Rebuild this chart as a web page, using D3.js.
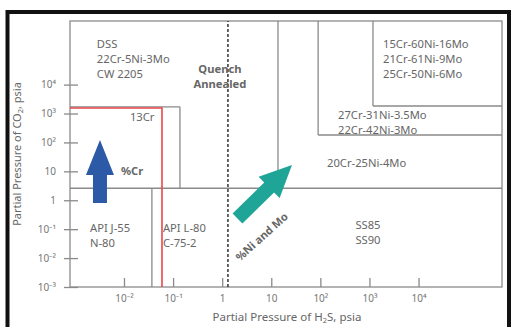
<!DOCTYPE html>
<html>
<head>
<meta charset="utf-8">
<script src="https://cdn.jsdelivr.net/npm/d3@7"></script>
<style>
  body { margin: 0; background: #fff; }
  svg text { font-family: "Noto Sans", "Open Sans", sans-serif; fill: #666; }
</style>
</head>
<body>
<svg id="chart" width="511" height="327"></svg>
<script>
// axis domains (log psia)
const xDomain = [Math.pow(10, -3.1), Math.pow(10, 5.7)];
const yDomain = [1e-3, Math.pow(10, 6.2)];
const xTicks = [1e-2, 1e-1, 1, 10, 1e2, 1e3, 1e4];
const xTickLabels = ["10\u207B\u00B2", "10\u207B\u00B9", "1", "10", "10\u00B2", "10\u00B3", "10\u2074"];
const yTicks = [1e-3, 1e-2, 1e-1, 1, 10, 1e2, 1e3, 1e4];
const yTickLabels = ["10\u207B\u00B3", "10\u207B\u00B2", "10\u207B\u00B9", "1", "10", "10\u00B2", "10\u00B3", "10\u2074"];

// region boundaries [x1, y1, x2, y2] in psia
const regionLines = [
  [xDomain[0], 2.6, xDomain[1], 2.6],
  [13.7, 2.6, 13.7, yDomain[1]],
  [90, 181, 90, yDomain[1]],
  [90, 181, xDomain[1], 181],
  [1180, 1820, 1180, yDomain[1]],
  [1180, 1820, xDomain[1], 1820],
  [xDomain[0], 1700, 0.138, 1700],
  [0.138, 1700, 0.138, 2.6],
  [0.037, yDomain[0], 0.037, 2.6]
];
const redLimit = [[xDomain[0], 1550], [0.0594, 1550], [0.0594, yDomain[0]]];
const quenchLine = 1.31;

// arrows [tail, tip]
const crArrow = [[0.00324, 0.8], [0.00324, 122]];
const niArrow = [[2.05, 0.234], [26.4, 16.6]];

// labels: first line anchor in psia
const labels = [
  { x: 0.0028, y: 1.8e5, lines: ["DSS", "22Cr-5Ni-3Mo", "CW 2205"], anchor: "start", bold: false },
  { x: 0.9, y: 24300, lines: ["Quench", "Annealed"], anchor: "middle", bold: true },
  { x: 0.0132, y: 531, lines: ["13Cr"], anchor: "start", bold: false },
  { x: 0.0087, y: 7.5, lines: ["%Cr"], anchor: "start", bold: true },
  { x: 1890, y: 1.8e5, lines: ["15Cr-60Ni-16Mo", "21Cr-61Ni-9Mo", "25Cr-50Ni-6Mo"], anchor: "start", bold: false },
  { x: 229, y: 622, lines: ["27Cr-31Ni-3.5Mo", "22Cr-42Ni-3Mo"], anchor: "start", bold: false },
  { x: 137, y: 13.6, lines: ["20Cr-25Ni-4Mo"], anchor: "start", bold: false },
  { x: 0.00203, y: 0.083, lines: ["API J-55", "N-80"], anchor: "start", bold: false },
  { x: 0.0622, y: 0.083, lines: ["API L-80", "C-75-2"], anchor: "start", bold: false },
  { x: 933, y: 0.0975, lines: ["SS85", "SS90"], anchor: "middle", bold: false }
];
const diagLabel = { x: 6.6, y: 0.052, text: "%Ni and Mo" };

const svg = d3.select("svg#chart");
const margins = { left: 70, top: 21, right: 9, bottom: 40 };
const width = +svg.attr("width");
const height = +svg.attr("height");

const x = d3.scaleLog().domain(xDomain).range([margins.left, width - margins.right]);
const y = d3.scaleLog().domain(yDomain).range([height - margins.bottom, margins.top]);

// outer black frame (cut off at the bottom)
svg.append("rect")
  .attr("x", 7.5).attr("y", 12).attr("width", 501.5).attr("height", 400)
  .attr("fill", "none").attr("stroke", "#111").attr("stroke-width", 4);

// plot frame
svg.append("rect")
  .attr("x", x(xDomain[0])).attr("y", y(yDomain[1]))
  .attr("width", x(xDomain[1]) - x(xDomain[0]))
  .attr("height", y(yDomain[0]) - y(yDomain[1]))
  .attr("fill", "none").attr("stroke", "#8a8a8a").attr("stroke-width", 1.3);

svg.append("g").selectAll("line").data(regionLines).enter().append("line")
  .attr("x1", d => x(d[0])).attr("y1", d => y(d[1]))
  .attr("x2", d => x(d[2])).attr("y2", d => y(d[3]))
  .attr("stroke", "#8a8a8a").attr("stroke-width", 1.3);

svg.append("path")
  .attr("d", d3.line().x(d => x(d[0])).y(d => y(d[1]))(redLimit))
  .attr("fill", "none").attr("stroke", "#e8474a").attr("stroke-width", 1.6);

svg.append("line")
  .attr("x1", x(quenchLine)).attr("x2", x(quenchLine))
  .attr("y1", y(yDomain[0])).attr("y2", y(yDomain[1]))
  .attr("stroke", "#333").attr("stroke-width", 1.5).attr("stroke-dasharray", "3,2");

// axes
const bottomAxis = d3.axisBottom(x).tickValues(xTicks)
  .tickFormat((d, i) => xTickLabels[i]).tickSize(-9).tickPadding(8);
const xg = svg.append("g").attr("transform", `translate(0,${y(yDomain[0])})`).call(bottomAxis);
xg.select(".domain").remove();
xg.selectAll(".tick line").attr("stroke", "#8a8a8a").attr("stroke-width", 1.3);
xg.selectAll(".tick text").attr("font-size", 10).style("fill", "#777");

const leftAxis = d3.axisLeft(y).tickValues(yTicks)
  .tickFormat((d, i) => yTickLabels[i]).tickSize(6).tickPadding(8);
const yg = svg.append("g").attr("transform", `translate(${x(xDomain[0])},0)`).call(leftAxis);
yg.select(".domain").remove();
yg.selectAll(".tick line").attr("x1", 8).attr("stroke", "#8a8a8a").attr("stroke-width", 1.3);
yg.selectAll(".tick text").attr("font-size", 10).style("fill", "#777");

// axis titles
svg.append("text")
  .attr("x", 287).attr("y", 321).attr("text-anchor", "middle").attr("font-size", 11.5)
  .html("Partial Pressure of H<tspan baseline-shift='-25%' font-size='7.5'>2</tspan>S, psia");
svg.append("text")
  .attr("transform", "translate(21,154) rotate(-90)")
  .attr("text-anchor", "middle").attr("font-size", 11)
  .html("Partial Pressure of CO<tspan baseline-shift='-25%' font-size='7.5'>2</tspan>, psia");

// arrows
function arrowPath(tail, tip, shaft, head, headLen) {
  const x0 = x(tail[0]), y0 = y(tail[1]), x1 = x(tip[0]), y1 = y(tip[1]);
  const len = Math.hypot(x1 - x0, y1 - y0);
  const ux = (x1 - x0) / len, uy = (y1 - y0) / len;
  const px = -uy, py = ux;
  const bx = x1 - ux * headLen, by = y1 - uy * headLen;
  const pts = [
    [x0 + px * shaft / 2, y0 + py * shaft / 2],
    [bx + px * shaft / 2, by + py * shaft / 2],
    [bx + px * head / 2, by + py * head / 2],
    [x1, y1],
    [bx - px * head / 2, by - py * head / 2],
    [bx - px * shaft / 2, by - py * shaft / 2],
    [x0 - px * shaft / 2, y0 - py * shaft / 2]
  ];
  return "M" + pts.map(p => p.join(",")).join("L") + "Z";
}
svg.append("path").attr("d", arrowPath(crArrow[0], crArrow[1], 14, 28, 35)).attr("fill", "#2c5aa6");
svg.append("path").attr("d", arrowPath(niArrow[0], niArrow[1], 14, 30, 32)).attr("fill", "#1ea597");

// labels
const lab = svg.append("g").selectAll("text").data(labels).enter().append("text")
  .attr("x", d => x(d.x)).attr("y", d => y(d.y))
  .attr("text-anchor", d => d.anchor)
  .attr("font-size", 11.2)
  .attr("font-weight", d => d.bold ? "bold" : "normal");
lab.selectAll("tspan").data(d => d.lines.map(l => ({ l, x: x(d.x) }))).enter().append("tspan")
  .attr("x", d => d.x)
  .attr("dy", (d, i) => i === 0 ? 0 : 15)
  .text(d => d.l);

svg.append("text")
  .attr("transform", `translate(${x(diagLabel.x)},${y(diagLabel.y)}) rotate(-42)`)
  .attr("text-anchor", "middle").attr("dominant-baseline", "middle")
  .attr("font-size", 11).attr("font-weight", "bold")
  .text(diagLabel.text);
</script>
</body>
</html>
